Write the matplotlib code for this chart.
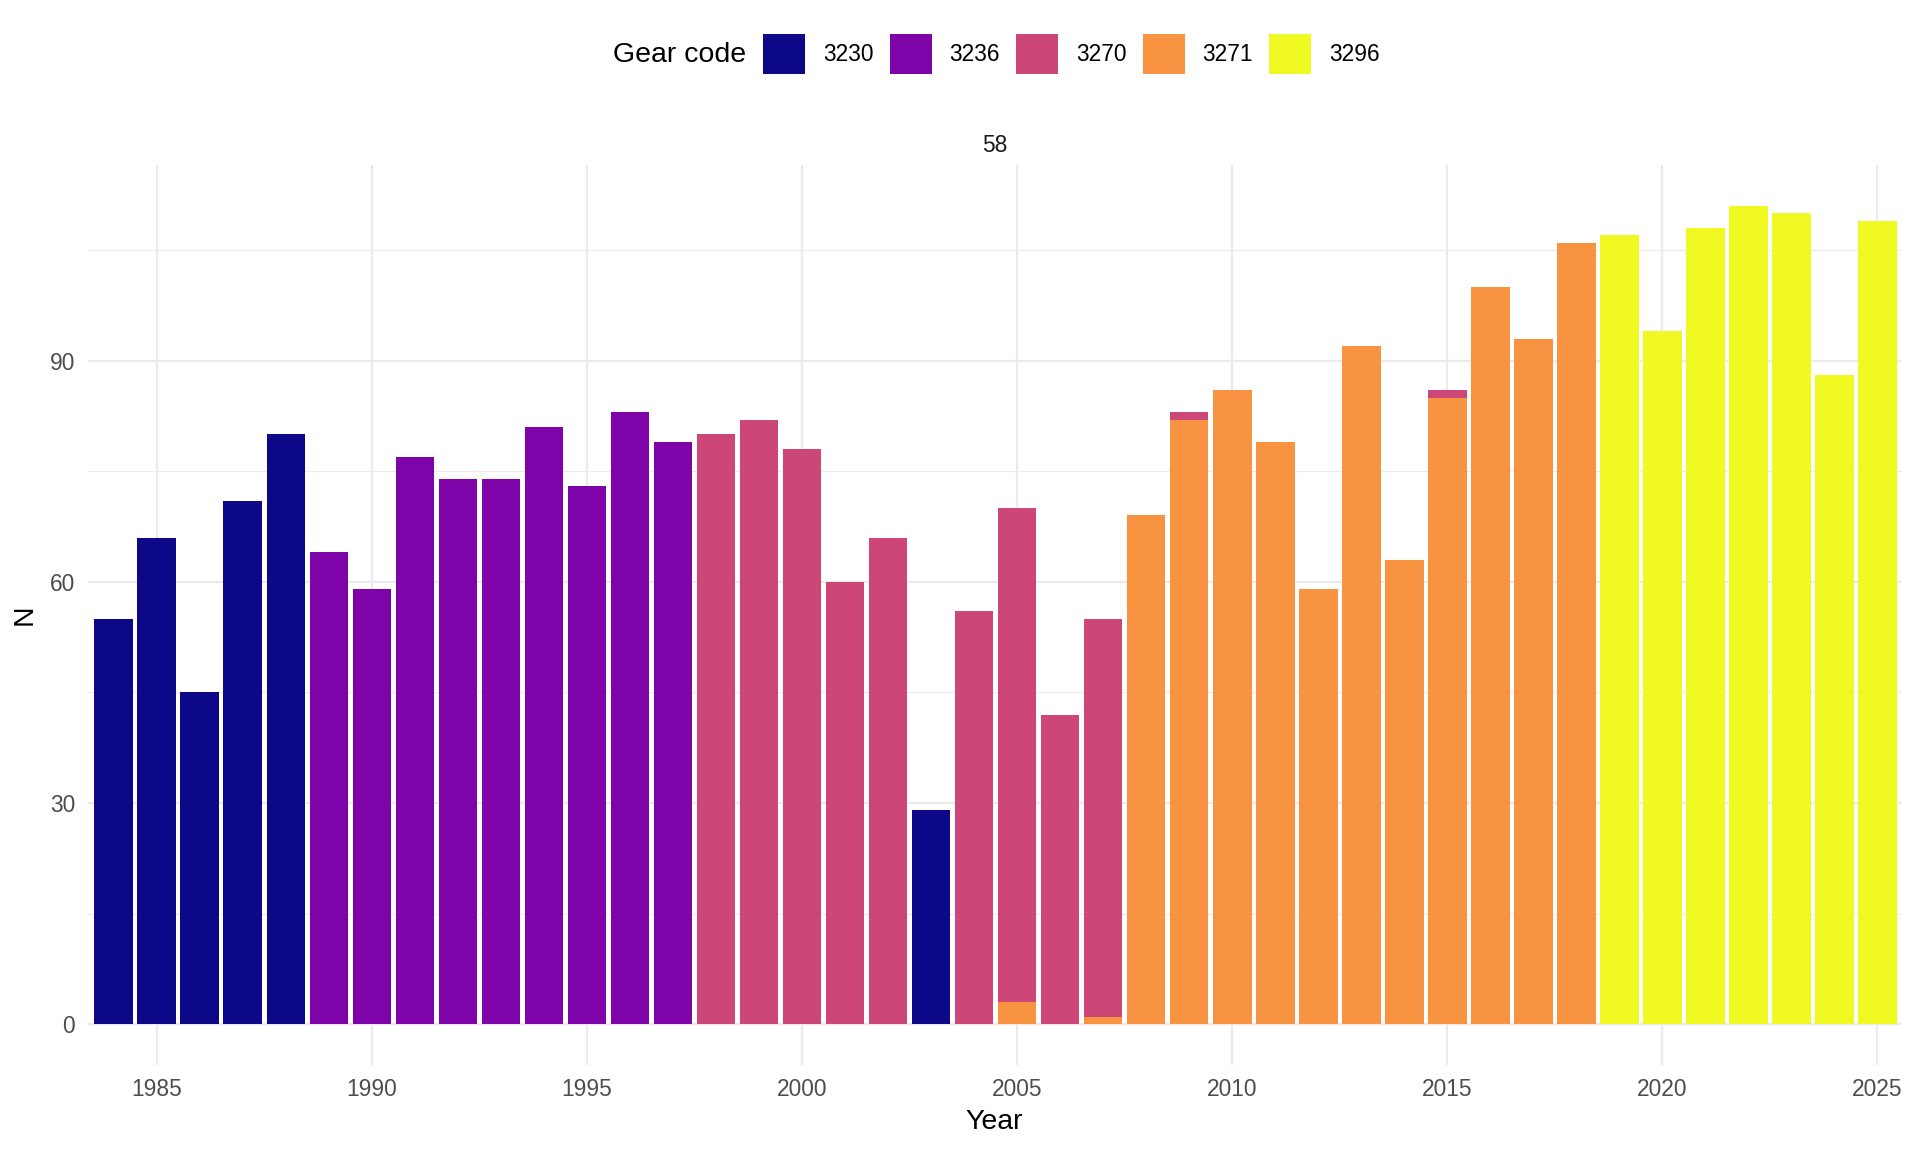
import numpy as np
import matplotlib
matplotlib.use("Agg")
import matplotlib.pyplot as plt
from matplotlib.patches import Patch

plt.rcParams['font.family'] = ['Liberation Sans', 'DejaVu Sans']

years = list(range(1984, 2026))
gear_codes = ["3230", "3236", "3270", "3271", "3296"]
colors = ["#0D0887", "#7E03A8", "#CC4678", "#F89441", "#F0F921"]

# counts per gear code, keyed by year
n_3230 = {1984: 55, 1985: 66, 1986: 45, 1987: 71, 1988: 80, 2003: 29}
n_3236 = {1989: 64, 1990: 59, 1991: 77, 1992: 74, 1993: 74, 1994: 81,
          1995: 73, 1996: 83, 1997: 79}
n_3270 = {1998: 80, 1999: 82, 2000: 78, 2001: 60, 2002: 66, 2004: 56,
          2005: 67, 2006: 42, 2007: 54, 2009: 1, 2015: 1}
n_3271 = {2005: 3, 2007: 1, 2008: 69, 2009: 82, 2010: 86, 2011: 79,
          2012: 59, 2013: 92, 2014: 63, 2015: 85, 2016: 100, 2017: 93,
          2018: 106}
n_3296 = {2019: 107, 2020: 94, 2021: 108, 2022: 111, 2023: 110,
          2024: 88, 2025: 109}

series = [n_3230, n_3236, n_3270, n_3271, n_3296]
facet_label = "58"

W, H = 1920, 1152
fig = plt.figure(figsize=(W / 100, H / 100), dpi=100)
left, right, top, bottom = 88, 1901, 165, 1065
ax = fig.add_axes([left / W, 1 - bottom / H, (right - left) / W, (bottom - top) / H])

x = np.array(years)
# stack: first factor level on top (ggplot order)
base = np.zeros(len(years))
for code, col, d in reversed(list(zip(gear_codes, colors, series))):
    vals = np.array([d.get(y, 0) for y in years], dtype=float)
    mask = vals > 0
    ax.bar(x[mask], vals[mask], bottom=base[mask], width=0.9, color=col,
           linewidth=0, zorder=3)
    base += vals

ax.set_xlim(1983.4, 2025.55)
ax.set_ylim(-5.55, 116.55)
ax.set_xticks(np.arange(1985, 2026, 5))
ax.set_yticks([0, 30, 60, 90])
ax.set_yticks([15, 45, 75, 105], minor=True)

for s in ax.spines.values():
    s.set_visible(False)
ax.grid(True, which='major', color='#EBEBEB', linewidth=1.6, zorder=0)
ax.grid(True, which='minor', axis='y', color='#EBEBEB', linewidth=0.8, zorder=0)
ax.set_axisbelow(True)
ax.tick_params(axis='both', which='both', length=0, pad=9.2,
               labelsize=16.4, labelcolor='#4D4D4D')

ax.set_xlabel("Year", fontsize=20.5, color='black')
ax.xaxis.label.set_va('center')
ax.xaxis.set_label_coords(0.5, (bottom - 1122) / (bottom - top))
ax.set_ylabel("N", fontsize=20.5, color='black')
ax.yaxis.label.set_va('center')
ax.yaxis.set_label_coords((24.5 - left) / (right - left), 0.5)

ax.set_title(facet_label, fontsize=16.4, color='#1A1A1A', pad=9.0)

# legend
handles = [Patch(facecolor=c, edgecolor='none') for c in colors]
fs = 16.4
fpx = fs * 100 / 72
leg = fig.legend(handles, gear_codes, loc='center left',
                 bbox_to_anchor=(763 / W, 1 - 54 / H), ncol=5, frameon=False,
                 fontsize=fs, handlelength=42 / fpx, handleheight=2.3,
                 handletextpad=18 / fpx, columnspacing=16 / fpx,
                 borderpad=0, borderaxespad=0)
fig.text(746 / W, 1 - 55 / H, "Gear code", ha='right', va='center',
         fontsize=20.5, color='black')

fig.savefig("out.png", dpi=100, facecolor='white')
